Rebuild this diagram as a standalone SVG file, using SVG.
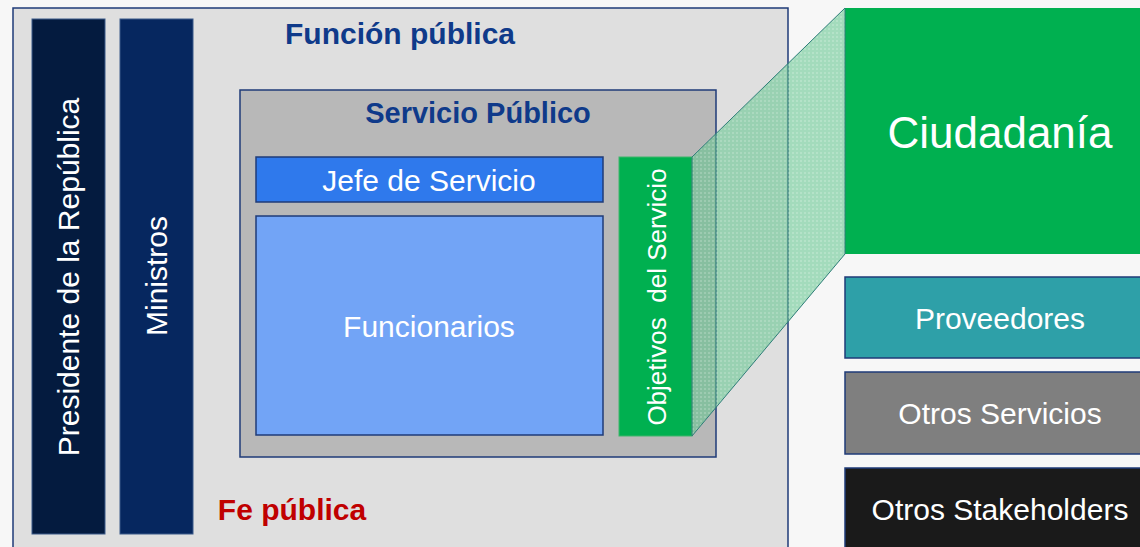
<svg xmlns="http://www.w3.org/2000/svg" width="1140" height="547" viewBox="0 0 1140 547">
<defs>
<pattern id="dots" width="4" height="4" patternUnits="userSpaceOnUse">
<rect width="4" height="4" fill="#5fc48c" fill-opacity="0.55"/>
<circle cx="1" cy="1" r="0.7" fill="#ffffff" fill-opacity="0.5"/>
</pattern>
</defs>
<style>
text{font-family:"Liberation Sans",Arial,sans-serif;fill:#fff;text-anchor:middle}
.b{stroke:#1f3b78;stroke-width:1.5}
.t{font-size:30px}
.h{font-weight:bold;fill:#0f3a8a}
</style>
<rect width="1140" height="547" fill="#f7f7f7"/>
<g id="funcion-publica">
<rect x="13" y="8" width="775" height="545" fill="#dfdfdf" class="b"/>
<text x="400" y="44" class="h" style="font-size:30px">Función pública</text>
<text x="292" y="520" style="font-size:30px;font-weight:bold;fill:#c00000">Fe pública</text>
</g>
<g id="presidente">
<rect x="32" y="19" width="73" height="515" fill="#041b3f" stroke="#3a5a8a" stroke-width="1"/>
<text transform="translate(79,277) rotate(-90)" class="t">Presidente de la República</text>
</g>
<g id="ministros">
<rect x="120" y="19" width="73" height="515" fill="#06275f" stroke="#3a5a8a" stroke-width="1"/>
<text transform="translate(167,276) rotate(-90)" class="t">Ministros</text>
</g>
<g id="servicio-publico">
<rect x="240" y="90" width="476" height="367" fill="#b8b8b8" class="b"/>
<text x="478" y="123" class="h" style="font-size:29px">Servicio Público</text>
</g>
<g id="jefe">
<rect x="256" y="157" width="347" height="45" fill="#2f79ec" class="b"/>
<text x="429" y="191" class="t">Jefe de Servicio</text>
</g>
<g id="funcionarios">
<rect x="256" y="216" width="347" height="219" fill="#72a4f6" class="b"/>
<text x="429" y="337" class="t">Funcionarios</text>
</g>
<g id="objetivos">
<rect x="619" y="157" width="73" height="279" fill="#00b050" stroke="#3fb56a" stroke-width="1"/>
<text transform="translate(666,297) rotate(-90)" style="font-size:26px;white-space:pre" xml:space="preserve">Objetivos  del Servicio</text>
</g>
<g id="ciudadania">
<rect x="845" y="8" width="300" height="246" fill="#00b050"/>
<text x="1000" y="148" style="font-size:44px">Ciudadanía</text>
</g>
<g id="connectors">
<polygon points="692,157 845,8 845,254 692,436" fill="url(#dots)" stroke="#2e7d78" stroke-width="1"/>
</g>
<g id="proveedores">
<rect x="845" y="277" width="300" height="81" fill="#2ea0a8" class="b"/>
<text x="1000" y="329" class="t">Proveedores</text>
</g>
<g id="otros-servicios">
<rect x="845" y="372" width="300" height="82" fill="#7f7f7f" class="b"/>
<text x="1000" y="424" class="t">Otros Servicios</text>
</g>
<g id="otros-stakeholders">
<rect x="845" y="468" width="300" height="85" fill="#1a1a1a" class="b"/>
<text x="1000" y="520" class="t">Otros Stakeholders</text>
</g>
</svg>
